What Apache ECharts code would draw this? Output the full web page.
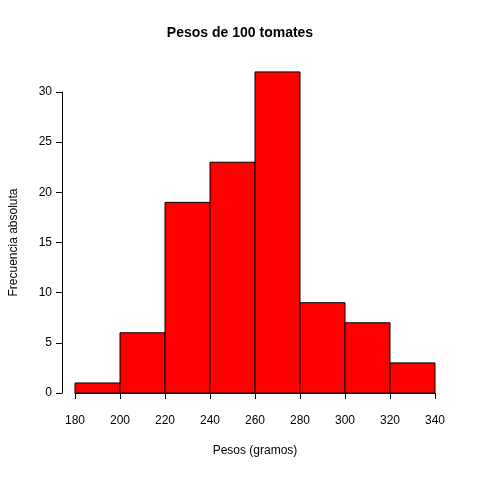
<!DOCTYPE html><html><head><meta charset="utf-8"><script src="https://cdn.jsdelivr.net/npm/echarts@6/dist/echarts.min.js"></script></head><body style="margin:0;background:#fff"><div id="c" style="width:480px;height:480px"></div><script>
const breaks=[180,200,220,240,260,280,300,320,340];
const counts=[1,6,19,23,32,9,7,3];
const yTicks=[0,5,10,15,20,25,30];
const data=counts.map((v,i)=>[breaks[i],breaks[i+1],v]);
const ch=echarts.init(document.getElementById('c'));
const f='Liberation Sans, Arial, sans-serif';
ch.setOption({animation:false,
title:{text:'Pesos de 100 tomates',left:'center',top:21,textStyle:{fontFamily:f,fontSize:14,fontWeight:'bold',color:'#000'}},
grid:{left:73,right:45,top:92,bottom:87},
xAxis:{type:'value',min:180,max:340,interval:20,offset:12,name:'Pesos (gramos)',nameLocation:'middle',nameGap:40,
 nameTextStyle:{fontFamily:f,fontSize:12,color:'#000'},
 axisLine:{show:true,lineStyle:{color:'#000'}},axisTick:{show:true,length:6,lineStyle:{color:'#000'}},
 axisLabel:{fontFamily:f,fontSize:12,color:'#000',margin:10},splitLine:{show:false}},
yAxis:{type:'value',min:0,max:30,interval:5,offset:13,name:'Frecuencia absoluta',nameLocation:'middle',nameGap:42,
 nameTextStyle:{fontFamily:f,fontSize:12,color:'#000'},
 axisLine:{show:true,lineStyle:{color:'#000'}},axisTick:{show:true,length:6,lineStyle:{color:'#000'}},
 axisLabel:{fontFamily:f,fontSize:12,color:'#000',margin:10},splitLine:{show:false}},
series:[{type:'custom',clip:false,data:data,renderItem:(p,api)=>{
 const a=api.coord([api.value(0),0]),b=api.coord([api.value(1),api.value(2)]);
 return {type:'rect',shape:{x:a[0],y:b[1],width:b[0]-a[0],height:a[1]-b[1]},style:{fill:'#ff0000',stroke:'#000',lineWidth:1}};
}}]});
</script></body></html>
